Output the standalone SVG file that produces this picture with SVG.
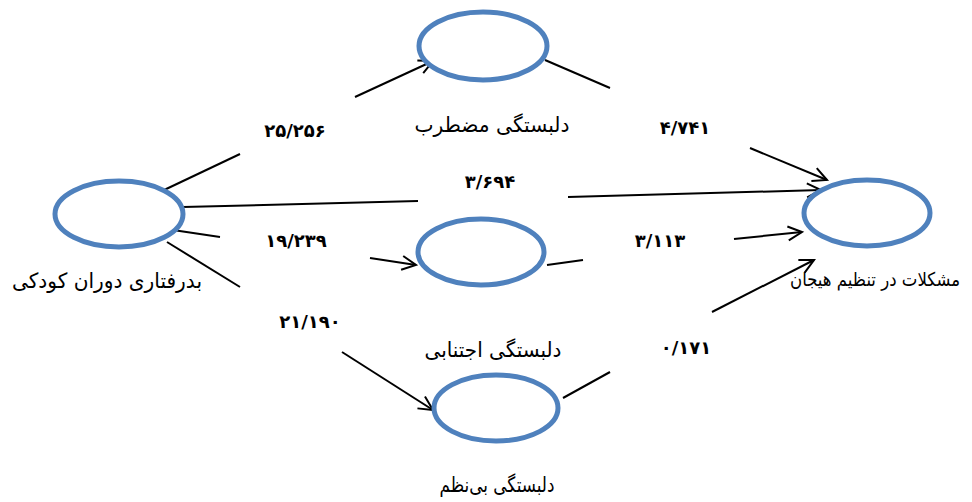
<svg xmlns="http://www.w3.org/2000/svg" width="972" height="502" viewBox="0 0 972 502">
  <defs>
    <marker id="arrow" markerUnits="userSpaceOnUse" markerWidth="20" markerHeight="20" viewBox="0 0 20 20" refX="16" refY="10" orient="auto">
      <path d="M2,3 L16,10 L2,17" fill="none" stroke="#000" stroke-width="2"/>
    </marker>
  </defs>
  <style>
    .node { fill: #fff; stroke: #4F81BD; stroke-width: 5; }
    .link { stroke: #000; stroke-width: 2; fill: none; }
    .lbl { font-family: "DejaVu Sans", sans-serif; font-size: 21px; fill: #000; text-anchor: middle; direction: rtl; }
    .num { font-family: "DejaVu Sans", sans-serif; font-size: 18px; font-weight: bold; fill: #000; text-anchor: middle; direction: ltr; unicode-bidi: bidi-override; }
  </style>
  <rect width="972" height="502" fill="#fff"/>

  <!-- connectors: each path is split around its coefficient label -->
  <g id="connectors">
    <line class="link" x1="162" y1="191" x2="240" y2="154"/>
    <line class="link" x1="355" y1="97" x2="433" y2="61" marker-end="url(#arrow)"/>

    <line class="link" x1="545" y1="60" x2="610" y2="88"/>
    <line class="link" x1="750" y1="148" x2="827" y2="180" marker-end="url(#arrow)"/>

    <line class="link" x1="183" y1="207" x2="418" y2="201"/>
    <line class="link" x1="568" y1="197" x2="821" y2="190" marker-end="url(#arrow)"/>

    <line class="link" x1="173" y1="230" x2="220" y2="237"/>
    <line class="link" x1="370" y1="258" x2="416" y2="265" marker-end="url(#arrow)"/>

    <line class="link" x1="547" y1="265" x2="583" y2="260"/>
    <line class="link" x1="734" y1="239" x2="802" y2="232" marker-end="url(#arrow)"/>

    <line class="link" x1="167" y1="242" x2="240" y2="287"/>
    <line class="link" x1="342" y1="352" x2="433" y2="410" marker-end="url(#arrow)"/>

    <line class="link" x1="563" y1="398" x2="610" y2="372"/>
    <line class="link" x1="712" y1="312" x2="814" y2="260" marker-end="url(#arrow)"/>

    <text class="num" x="295" y="137">۲۵/۲۵۶</text>
    <text class="num" x="685" y="134">۴/۷۴۱</text>
    <text class="num" x="490" y="188">۳/۶۹۴</text>
    <text class="num" x="296" y="247">۱۹/۲۳۹</text>
    <text class="num" x="660" y="247">۳/۱۱۳</text>
    <text class="num" x="310" y="328">۲۱/۱۹۰</text>
    <text class="num" x="686" y="354">۰/۱۷۱</text>
  </g>

  <g id="childhood-maltreatment">
    <ellipse class="node" cx="119" cy="214" rx="64" ry="33"/>
    <text class="lbl" x="107" y="288" textLength="190" lengthAdjust="spacingAndGlyphs">بدرفتاری دوران کودکی</text>
  </g>

  <g id="anxious-attachment">
    <ellipse class="node" cx="483" cy="46" rx="64" ry="34"/>
    <text class="lbl" x="492" y="132" textLength="155" lengthAdjust="spacingAndGlyphs">دلبستگی مضطرب</text>
  </g>

  <g id="avoidant-attachment">
    <ellipse class="node" cx="481" cy="252" rx="63" ry="33"/>
    <text class="lbl" x="493" y="357" textLength="137" lengthAdjust="spacingAndGlyphs">دلبستگی اجتنابی</text>
  </g>

  <g id="disorganized-attachment">
    <ellipse class="node" cx="496" cy="408" rx="62" ry="33"/>
    <text class="lbl" x="497" y="492" textLength="115" lengthAdjust="spacingAndGlyphs">دلبستگی بی‌نظم</text>
  </g>

  <g id="emotion-regulation-problems">
    <ellipse class="node" cx="867" cy="213" rx="63" ry="33"/>
    <text class="lbl" x="875" y="286" style="font-size:19px" textLength="170" lengthAdjust="spacingAndGlyphs">مشکلات در تنظیم هیجان</text>
  </g>
</svg>
